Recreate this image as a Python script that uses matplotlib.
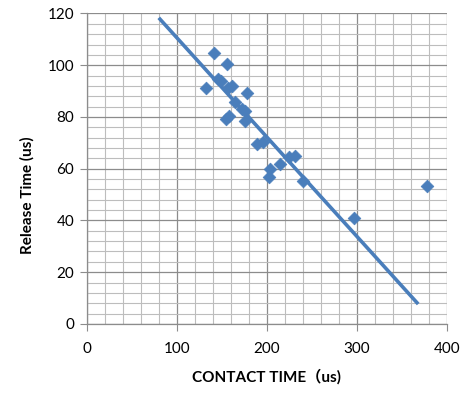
import numpy as np
import matplotlib
matplotlib.use("Agg")
import matplotlib.pyplot as plt
from matplotlib.ticker import MultipleLocator

# contact time vs release time
contact_time = [141.4, 155.5, 132.6, 146.3, 148.9, 156.6, 161.8, 178.5,
                164.8, 172.9, 175.9, 154.8, 158.4, 175.9, 188.9, 196.2,
                225.1, 231.4, 203.7, 214.8, 202.9, 240.7, 296.3, 378.1]
release_time = [104.9, 100.6, 91.0, 94.8, 93.9, 91.0, 92.0, 89.3,
                85.8, 83.0, 82.2, 79.3, 80.4, 78.3, 69.5, 70.4,
                64.4, 65.1, 59.7, 61.8, 56.6, 55.3, 41.0, 53.5]

# drawn trend line end points
trend_x = [81.4, 366.7]
trend_y = [117.8, 8.2]

blue = "#4A7EBB"

plt.rcParams["font.family"] = ["Lato", "Noto Sans CJK JP", "DejaVu Sans"]

fig = plt.figure(figsize=(4.71, 3.96), dpi=100)
ax = fig.add_axes([0.184, 0.182, 0.765, 0.784])

ax.plot(trend_x, trend_y, color=blue, linewidth=2.6, zorder=3)
ax.scatter(contact_time, release_time, marker="D", s=42, color=blue,
           edgecolors=blue, linewidths=0.5, zorder=4)

ax.set_xlim(0, 400)
ax.set_ylim(0, 120)
ax.xaxis.set_major_locator(MultipleLocator(100))
ax.xaxis.set_minor_locator(MultipleLocator(20))
ax.yaxis.set_major_locator(MultipleLocator(20))
ax.yaxis.set_minor_locator(MultipleLocator(4))

ax.grid(which="major", color="#8C8C8C", linewidth=0.9, zorder=0)
ax.grid(which="minor", color="#BDBDBD", linewidth=0.8, zorder=0)
ax.set_axisbelow(True)

for side in ["top", "right"]:
    ax.spines[side].set_visible(False)
for side in ["left", "bottom"]:
    ax.spines[side].set_color("#8C8C8C")
    ax.spines[side].set_linewidth(0.9)

ax.tick_params(which="major", direction="out", length=5, color="#8C8C8C",
               labelsize=11, pad=4)
ax.tick_params(which="minor", length=0)
ax.tick_params(axis="x", pad=8)

ax.set_xlabel("CONTACT TIME（us)", fontsize=11, fontweight="bold", va="center")
ax.set_ylabel("Release Time (us)", fontsize=11, fontweight="bold", va="center")
ax.xaxis.set_label_coords(0.5, -0.170)
ax.yaxis.set_label_coords(-0.166, 0.415)

fig.savefig("out.png", dpi=100)
